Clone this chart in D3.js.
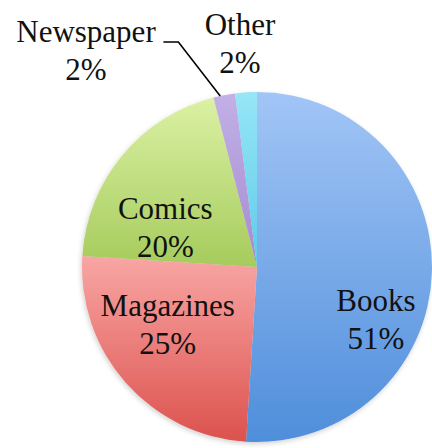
<!DOCTYPE html>
<html>
<head>
<meta charset="utf-8">
<script src="https://cdn.jsdelivr.net/npm/d3@7"></script>
<style>
  html, body { margin: 0; padding: 0; background: #fff; }
  svg { display: block; }
  .lbl { font-family: "Liberation Serif", "Times New Roman", Times, Tinos, "Nimbus Roman", "Nimbus Roman No9 L", FreeSerif, "DejaVu Serif", "Noto Serif", "Noto Serif CJK SC", "Noto Serif CJK JP", serif; font-size: 31px; }
</style>
</head>
<body>
<div id="chart"></div>
<script>
// Reading material share
const categories = ["Books", "Magazines", "Comics", "Newspaper", "Other"];
const shares = [51, 25, 20, 2, 2];
const percentLabels = ["51%", "25%", "20%", "2%", "2%"];

// Vertical gradient stops per slice (light top -> darker bottom)
const topColors = ["#a2c5f6", "#f8a6a4", "#dbf1a4", "#c2b0e6", "#97e6f6"];
const bottomColors = ["#4f8edb", "#dc524e", "#a6cb5c", "#a48bd0", "#5ccbe8"];

const W = 432, H = 448;
const cx = 257, cy = 267, R = 175;

// Label placement relative to each slice centroid (drawing layout)
const labelLayout = [
  { dx: 0,   dy: 48,   leader: false },  // Books
  { dx: 0,   dy: -22,  leader: false },  // Magazines
  { dx: 0,   dy: 36,   leader: false },  // Comics
  { x: 86,   y: 42,    leader: true  },  // Newspaper (outside)
  { x: 240,  y: 35,    leader: false }   // Other (outside)
];
const lineGap = 38;

const svg = d3.select("#chart").append("svg")
  .attr("width", W).attr("height", H);

const defs = svg.append("defs");
categories.forEach((c, i) => {
  const g = defs.append("linearGradient")
    .attr("id", "grad" + i)
    .attr("x1", 0).attr("y1", 0).attr("x2", 0).attr("y2", 1);
  g.append("stop").attr("offset", "0%").attr("stop-color", topColors[i]);
  g.append("stop").attr("offset", "100%").attr("stop-color", bottomColors[i]);
});
const shadow = defs.append("filter").attr("id", "soft")
  .attr("x", "-10%").attr("y", "-10%").attr("width", "120%").attr("height", "120%");
shadow.append("feDropShadow")
  .attr("dx", -1).attr("dy", 2).attr("stdDeviation", 2.5)
  .attr("flood-color", "#000").attr("flood-opacity", 0.18);

const pie = d3.pie().sort(null).value(d => d).startAngle(0).endAngle(2 * Math.PI);
const arcs = pie(shares);
const arc = d3.arc().innerRadius(0).outerRadius(R);
const centroidArc = d3.arc().innerRadius(R * 0.68).outerRadius(R * 0.68);

const g = svg.append("g").attr("transform", `translate(${cx},${cy})`);

g.append("g").attr("filter", "url(#soft)")
  .selectAll("path")
  .data(arcs)
  .join("path")
  .attr("d", arc)
  .attr("fill", (d, i) => `url(#grad${i})`);

// Labels
const labels = svg.append("g")
  .attr("class", "lbl")
  .attr("fill", "#111")
  .attr("text-anchor", "middle");

arcs.forEach((a, i) => {
  const L = labelLayout[i];
  let x, y;
  if (L.x !== undefined) {
    x = L.x; y = L.y;
  } else {
    const [px, py] = centroidArc.centroid(a);
    x = cx + px + L.dx;
    y = cy + py + L.dy;
  }
  // Inside labels: y is the centre between the two lines
  const base = (L.x !== undefined) ? y : y - lineGap / 2 + 11;
  const t = labels.append("text").attr("x", x).attr("y", base).text(categories[i]);
  labels.append("text").attr("x", x).attr("y", base + lineGap).text(percentLabels[i]);

  if (L.leader) {
    const bb = t.node().getBBox();
    const sx = bb.x + bb.width + 7;
    const mid = (a.startAngle + a.endAngle) / 2;
    const ex = cx + Math.sin(mid) * R;
    const ey = cy - Math.cos(mid) * R;
    svg.append("path")
      .attr("d", `M${sx},${y} L${sx + 15},${y} L${ex - 4},${ey + 1}`)
      .attr("fill", "none")
      .attr("stroke", "#000")
      .attr("stroke-width", 1.6);
  }
});
</script>
</body>
</html>
